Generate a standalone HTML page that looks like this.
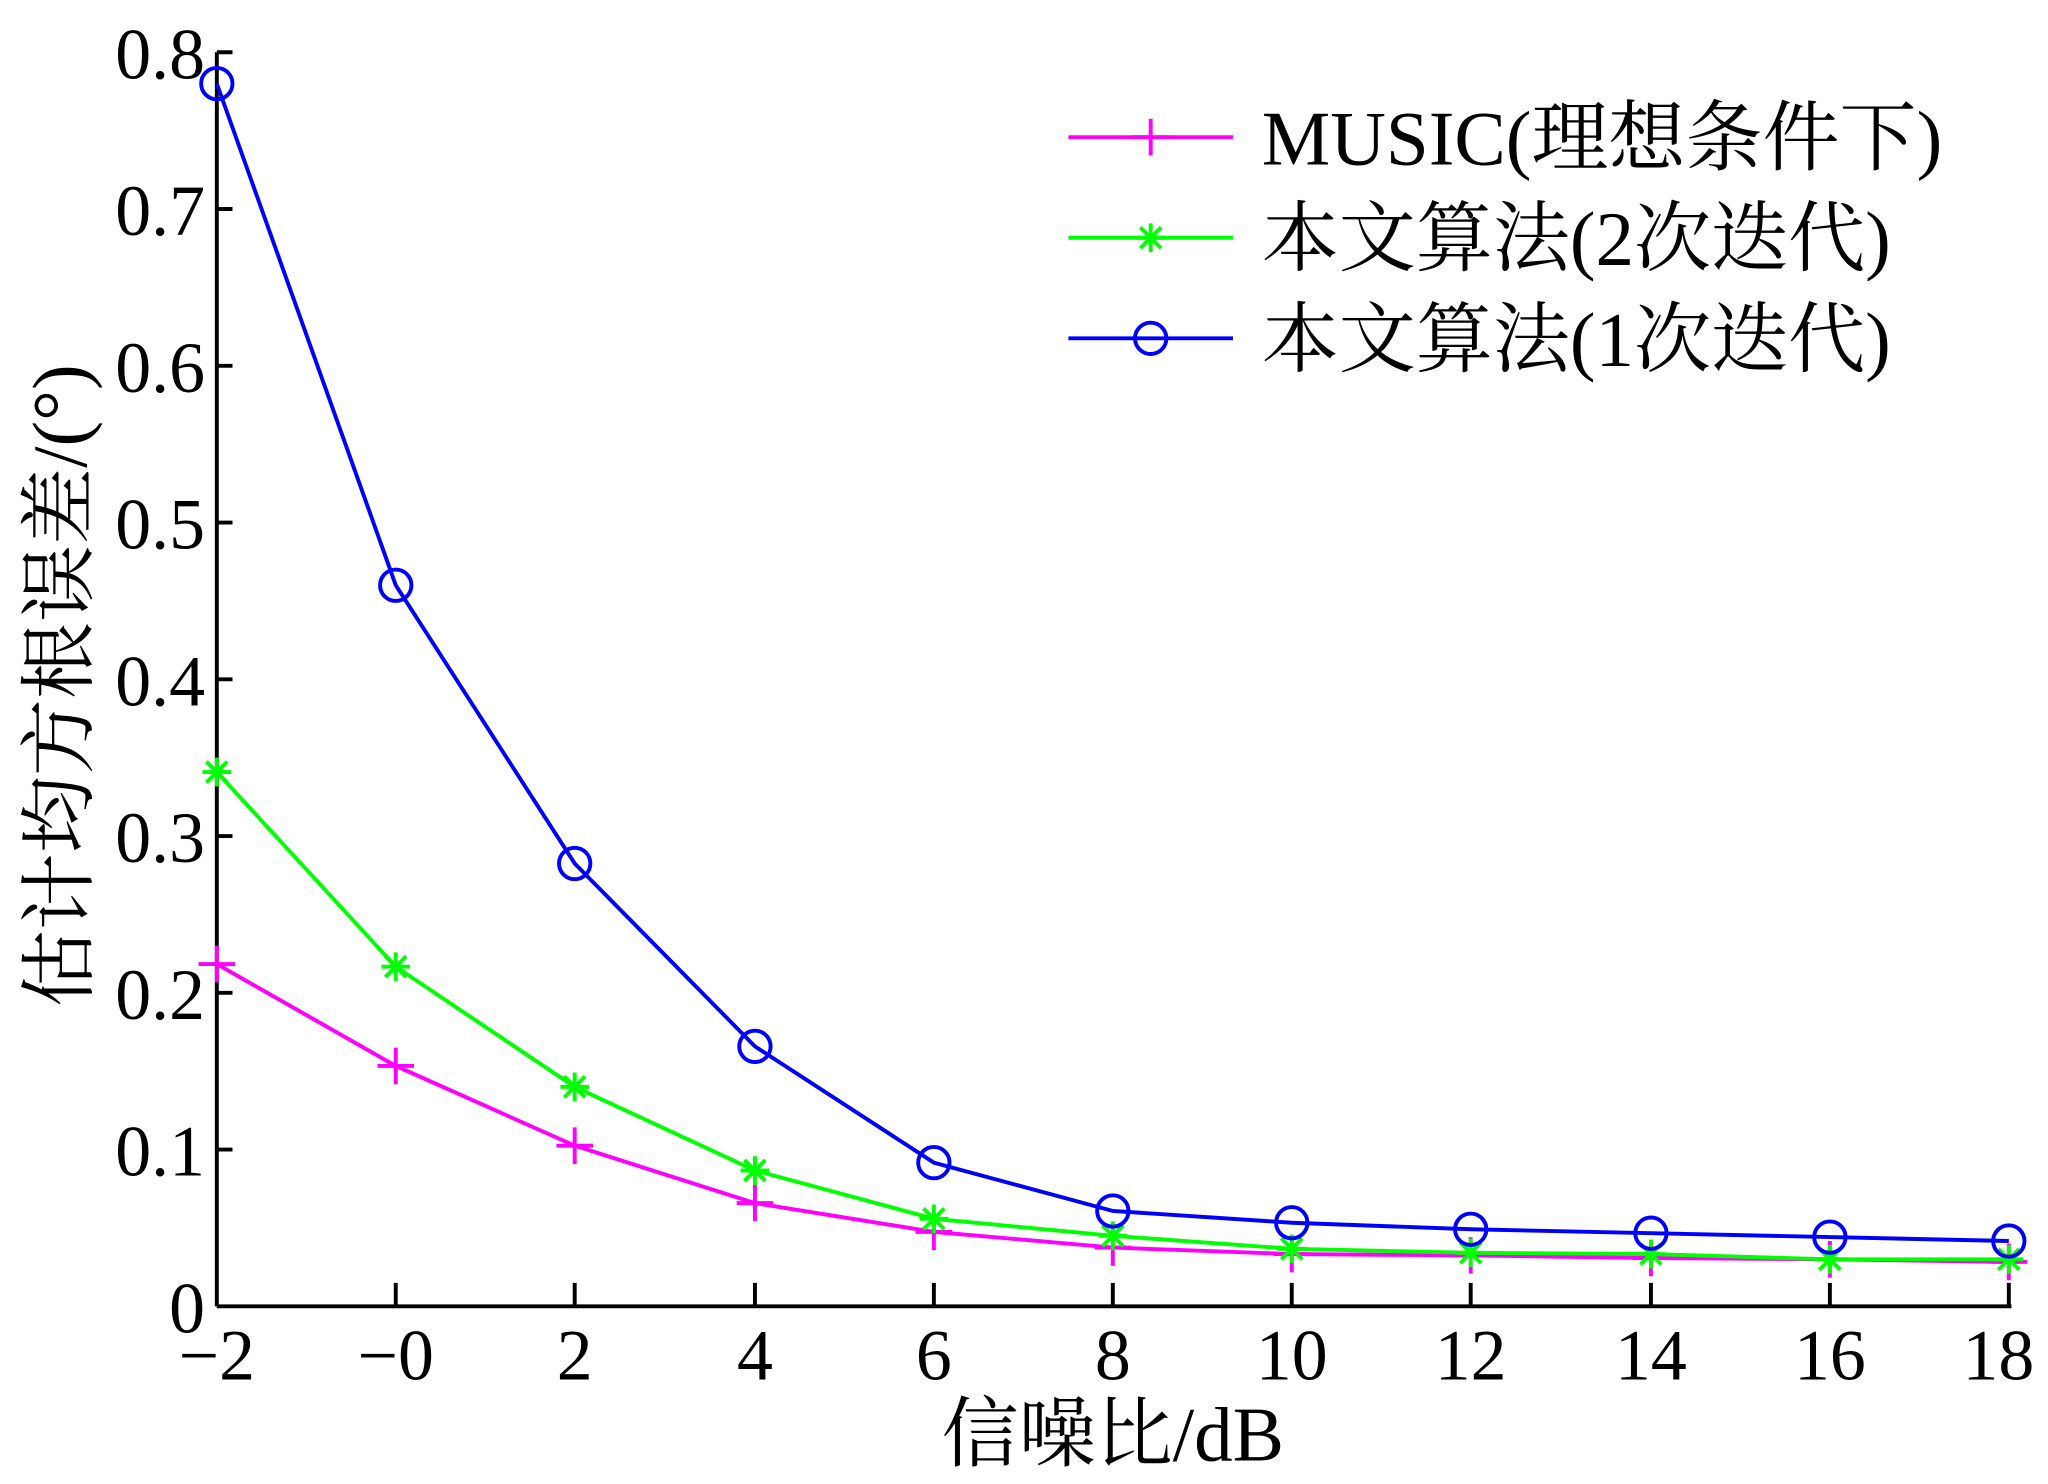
<!DOCTYPE html>
<html><head><meta charset="utf-8"><style>html,body{margin:0;padding:0;background:#fff}svg{display:block}</style></head>
<body>
<svg width="2048" height="1484" viewBox="0 0 1568 1136" preserveAspectRatio="none" xmlns="http://www.w3.org/2000/svg" font-family="'Liberation Serif','Noto Serif CJK SC',serif">
<rect width="1568" height="1136" fill="#fff"/>
<g stroke="#000" stroke-width="3" fill="none">
<line x1="166" y1="40" x2="166" y2="1000"/>
<line x1="166" y1="1000" x2="1540" y2="1000"/>
<path d="M166 880h12M166 760h12M166 640h12M166 520h12M166 400h12M166 280h12M166 160h12M166 40h12"/>
<path d="M303 1000v-18M440 1000v-18M578 1000v-18M715 1000v-18M852 1000v-18M989 1000v-18M1126 1000v-18M1264 1000v-18M1401 1000v-18M1538 1000v-18"/>
</g>
<g font-size="55" text-anchor="end" fill="#000">
<text x="157" y="1020">0</text><text x="157" y="900">0.1</text><text x="157" y="780">0.2</text><text x="157" y="660">0.3</text><text x="157" y="540">0.4</text><text x="157" y="420">0.5</text><text x="157" y="300">0.6</text><text x="157" y="180">0.7</text><text x="157" y="60">0.8</text>
</g>
<g font-size="55" text-anchor="middle" fill="#000">
<text x="166" y="1056">−2</text><text x="303" y="1056">−0</text><text x="440" y="1056">2</text><text x="578" y="1056">4</text><text x="715" y="1056">6</text><text x="852" y="1056">8</text><text x="989" y="1056">10</text><text x="1126" y="1056">12</text><text x="1264" y="1056">14</text><text x="1401" y="1056">16</text><text x="1530" y="1056">18</text>
</g>
<g font-size="59" text-anchor="middle" fill="#000">
<text x="852" y="1118">信噪比/dB</text>
<text transform="translate(66,525) rotate(-90)">估计均方根误差/(°)</text>
</g>
<polyline fill="none" stroke="#ff00ff" stroke-width="3" points="166,738 303,816 440,877 578,921 715,943 852,955 989,960 1126,961 1264,963 1401,964 1538,966"/>
<g stroke="#ff00ff" stroke-width="3">
<path d="M152 738h28M166 724v28M289 816h28M303 802v28M426 877h28M440 863v28M564 921h28M578 907v28M701 943h28M715 929v28M838 955h28M852 941v28M975 960h28M989 946v28M1112 961h28M1126 947v28M1250 963h28M1264 949v28M1387 964h28M1401 950v28M1524 966h28M1538 952v28"/>
</g>
<polyline fill="none" stroke="#00ff00" stroke-width="3" points="166,591 303,740 440,832 578,896 715,933 852,946 989,956 1126,959 1264,960 1401,964 1538,964"/>
<g stroke="#00ff00" stroke-width="3">
<path d="M155 591h22M166 580v22M158 583l16 16M174 583l-16 16M292 740h22M303 729v22M295 732l16 16M311 732l-16 16M429 832h22M440 821v22M432 824l16 16M448 824l-16 16M567 896h22M578 885v22M570 888l16 16M586 888l-16 16M704 933h22M715 922v22M707 925l16 16M723 925l-16 16M841 946h22M852 935v22M844 938l16 16M860 938l-16 16M978 956h22M989 945v22M981 948l16 16M997 948l-16 16M1115 959h22M1126 948v22M1118 951l16 16M1134 951l-16 16M1253 960h22M1264 949v22M1256 952l16 16M1272 952l-16 16M1390 964h22M1401 953v22M1393 956l16 16M1409 956l-16 16M1527 964h22M1538 953v22M1530 956l16 16M1546 956l-16 16"/>
</g>
<polyline fill="none" stroke="#0000ff" stroke-width="3" points="166,64 303,448 440,661 578,801 715,890 852,927 989,936 1126,941 1264,944 1401,947 1538,950"/>
<g fill="none" stroke="#0000ff" stroke-width="3">
<circle cx="166" cy="64" r="12"/><circle cx="303" cy="448" r="12"/><circle cx="440" cy="661" r="12"/><circle cx="578" cy="801" r="12"/><circle cx="715" cy="890" r="12"/><circle cx="852" cy="927" r="12"/><circle cx="989" cy="936" r="12"/><circle cx="1126" cy="941" r="12"/><circle cx="1264" cy="944" r="12"/><circle cx="1401" cy="947" r="12"/><circle cx="1538" cy="950" r="12"/>
</g>
<g stroke-width="3" fill="none">
<line x1="818" y1="105" x2="944" y2="105" stroke="#ff00ff"/><path d="M867 105h28M881 91v28" stroke="#ff00ff"/>
<line x1="818" y1="182" x2="944" y2="182" stroke="#00ff00"/><path d="M870 182h22M881 171v22M873 174l16 16M889 174l-16 16" stroke="#00ff00"/>
<line x1="818" y1="259" x2="944" y2="259" stroke="#0000ff"/><circle cx="881" cy="259" r="12" stroke="#0000ff"/>
</g>
<g font-size="59" fill="#000">
<text x="966" y="126">MUSIC(理想条件下)</text>
<text x="966" y="203">本文算法(2次迭代)</text>
<text x="966" y="280">本文算法(1次迭代)</text>
</g>
</svg>
</body></html>
